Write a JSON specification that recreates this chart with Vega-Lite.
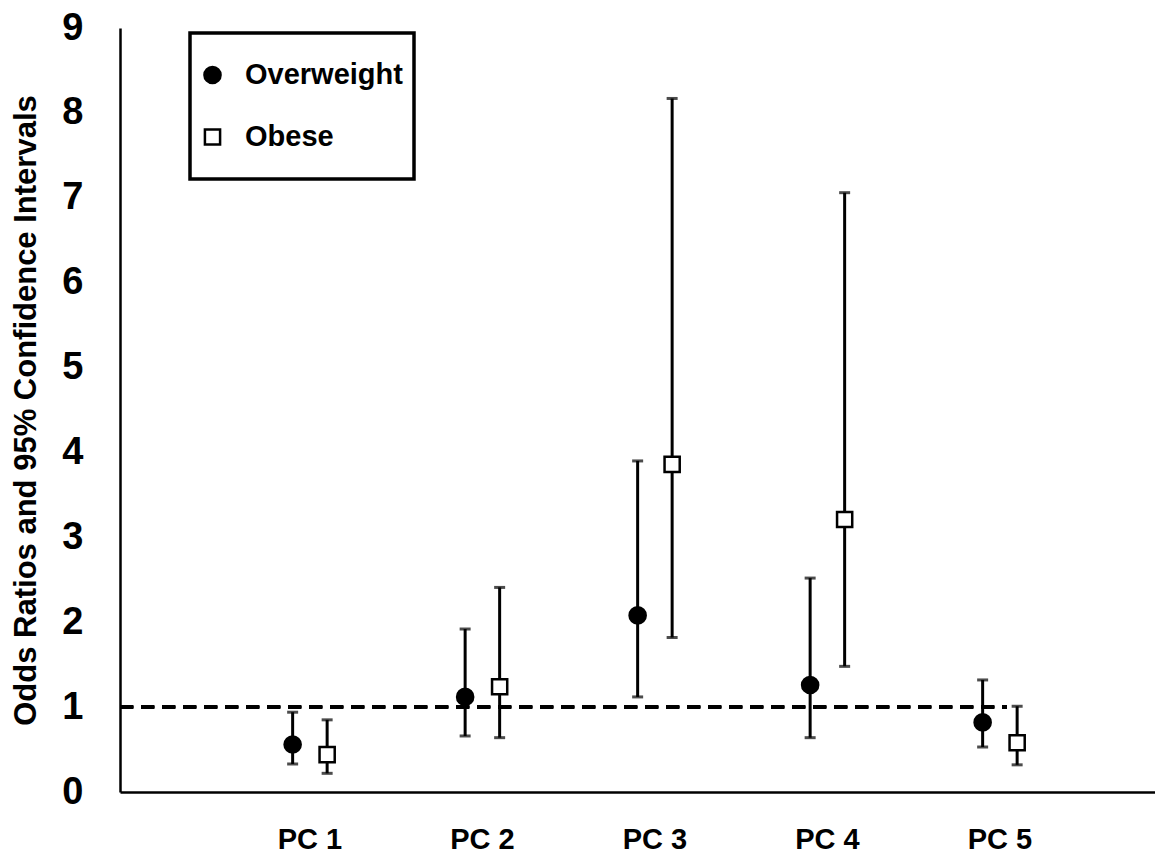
{
  "$schema": "https://vega.github.io/schema/vega-lite/v6.json",
  "width": 1035,
  "height": 764,
  "autosize": "none",
  "padding": {"left": 120, "top": 28, "right": 0, "bottom": 65},
  "background": "white",
  "config": {
    "view": {"stroke": null},
    "font": "Liberation Sans",
    "legend": {"strokeWidth": 3.5}
  },
  "data": {
    "values": [
      {"pc": "PC 1", "group": "Overweight", "or": 0.56, "lo": 0.33, "hi": 0.94},
      {"pc": "PC 1", "group": "Obese", "or": 0.44, "lo": 0.22, "hi": 0.85},
      {"pc": "PC 2", "group": "Overweight", "or": 1.12, "lo": 0.66, "hi": 1.92},
      {"pc": "PC 2", "group": "Obese", "or": 1.24, "lo": 0.64, "hi": 2.41},
      {"pc": "PC 3", "group": "Overweight", "or": 2.08, "lo": 1.12, "hi": 3.9},
      {"pc": "PC 3", "group": "Obese", "or": 3.86, "lo": 1.82, "hi": 8.17},
      {"pc": "PC 4", "group": "Overweight", "or": 1.26, "lo": 0.64, "hi": 2.52},
      {"pc": "PC 4", "group": "Obese", "or": 3.21, "lo": 1.48, "hi": 7.06},
      {"pc": "PC 5", "group": "Overweight", "or": 0.82, "lo": 0.53, "hi": 1.32},
      {"pc": "PC 5", "group": "Obese", "or": 0.58, "lo": 0.32, "hi": 1.01}
    ]
  },
  "encoding": {
    "x": {
      "field": "pc",
      "type": "nominal",
      "scale": {"type": "band", "paddingInner": 0.6, "paddingOuter": 0.8, "align": 0.563},
      "axis": {
        "title": null,
        "labelAngle": 0,
        "labelFont": "Liberation Sans",
        "labelFontWeight": "bold",
        "labelFontSize": 29,
        "labelColor": "black",
        "labelPadding": 33,
        "ticks": false,
        "domainColor": "black",
        "domainWidth": 2.5
      }
    },
    "xOffset": {
      "field": "group",
      "type": "nominal",
      "sort": ["Overweight", "Obese"],
      "scale": {"paddingInner": 0, "paddingOuter": 0}
    }
  },
  "layer": [
    {
      "mark": {"type": "rule", "strokeDash": [13, 8], "strokeWidth": 3, "color": "black"},
      "encoding": {
        "x": {"datum": "PC 1", "bandPosition": -2.25},
        "x2": {"datum": "PC 5", "bandPosition": 0.6},
        "xOffset": null,
        "y": {"datum": 1, "type": "quantitative"}
      }
    },
    {
      "mark": {"type": "rule", "strokeWidth": 3, "color": "black"},
      "encoding": {
        "y": {"field": "lo", "type": "quantitative", "scale": {"domain": [0, 9], "nice": false}},
        "y2": {"field": "hi"}
      }
    },
    {
      "mark": {"type": "tick", "thickness": 3, "size": 11, "color": "black", "orient": "horizontal"},
      "encoding": {"y": {"field": "lo", "type": "quantitative"}}
    },
    {
      "mark": {"type": "tick", "thickness": 3, "size": 11, "color": "black", "orient": "horizontal"},
      "encoding": {"y": {"field": "hi", "type": "quantitative"}}
    },
    {
      "mark": {"type": "point", "opacity": 1, "strokeWidth": 2.5, "stroke": "black"},
      "encoding": {
        "y": {
          "field": "or",
          "type": "quantitative",
          "scale": {"domain": [0, 9], "nice": false},
          "axis": {
            "title": "Odds Ratios and 95% Confidence Intervals",
            "titleFont": "Liberation Sans",
            "titleFontWeight": "bold",
            "titleFontSize": 31,
            "titleColor": "black",
            "titlePadding": 19,
            "values": [0, 1, 2, 3, 4, 5, 6, 7, 8, 9],
            "format": "d",
            "labelFont": "Liberation Sans",
            "labelFontWeight": "bold",
            "labelFontSize": 38,
            "labelColor": "black",
            "labelPadding": 37,
            "ticks": false,
            "grid": false,
            "domainColor": "black",
            "domainWidth": 2.5
          }
        },
        "shape": {
          "field": "group",
          "type": "nominal",
          "scale": {"domain": ["Overweight", "Obese"], "range": ["circle", "square"]},
          "legend": {
            "title": null,
            "orient": "none",
            "legendX": 70,
            "legendY": 5,
            "strokeColor": "black",
            "padding": 11,
            "clipHeight": 62,
            "rowPadding": 0,
            "symbolOffset": -3,
            "labelFont": "Liberation Sans",
            "labelFontWeight": "bold",
            "labelFontSize": 29,
            "labelColor": "black",
            "labelOffset": 18,
            "symbolStrokeColor": "black",
            "symbolStrokeWidth": 2.5
          }
        },
        "fill": {
          "field": "group",
          "type": "nominal",
          "scale": {"domain": ["Overweight", "Obese"], "range": ["black", "white"]}
        },
        "size": {
          "field": "group",
          "type": "nominal",
          "scale": {"domain": ["Overweight", "Obese"], "range": [260, 230]}
        }
      }
    }
  ]
}
